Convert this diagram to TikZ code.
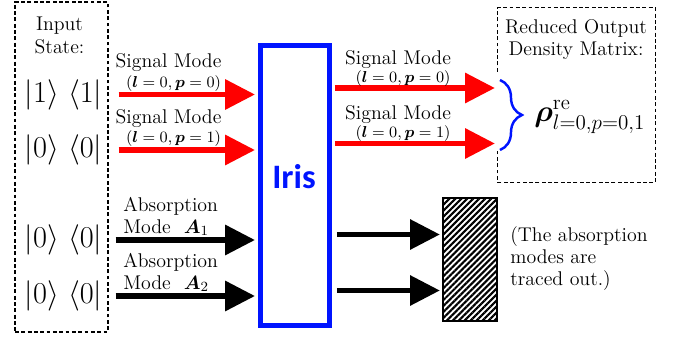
\documentclass[tikz,border=0pt]{standalone}
\usepackage{fontspec}
\usepackage{amsmath}
\usetikzlibrary{arrows.meta,patterns.meta,decorations.pathreplacing,calc}
\definecolor{irisblue}{RGB}{0,20,255}
\definecolor{sigred}{RGB}{255,0,0}
\newfontfamily\irisfont{Carlito}

\begin{document}
\begin{tikzpicture}[x=0.02cm, y=-0.02cm,
  fatarrow/.style={line width=3.4pt, -{Triangle[length=17pt,width=16.5pt]}},
  dashbox/.style={dash pattern=on 2.2pt off 1.4pt, line width=0.8pt},
  lbl/.style={font=\fontsize{11.3}{12.6}\selectfont, inner sep=0pt},
  modelbl/.style={font=\fontsize{9.1}{11}\selectfont, anchor=base, inner sep=0pt},
  ket/.style={font=\fontsize{17.5}{20}\selectfont, inner sep=0pt},
]
\useasboundingbox (0,0) rectangle (677,338);

% Input states
\node[draw, dashbox, minimum width=1.86cm, minimum height=6.6cm] (inbox) at (61.5,167) {};
\node[lbl, anchor=north, align=center] (intitle) at (59.5,17) {Input\\State:};
\node[ket] (k1) at (63.5,94.5) {$|1\rangle\ \langle 1|$};
\node[ket] (k2) at (63.5,150) {$|0\rangle\ \langle 0|$};
\node[ket] (k3) at (63.5,240) {$|0\rangle\ \langle 0|$};
\node[ket] (k4) at (63.5,296) {$|0\rangle\ \langle 0|$};

% Iris
\node[draw=irisblue, line width=2.8pt, minimum width=1.38cm, minimum height=5.6cm] (iris) at (295,185.5) {};
\node[font=\irisfont\bfseries\fontsize{19.5}{24}\selectfont, text=irisblue, inner sep=0pt] (iristxt) at (294,177) {Iris};

% Input arrows and labels
\draw[fatarrow, sigred] ($(inbox.east |- k1)+(10,0)$) -- ($(iris.west |- k1)+(-3,0)$);
\draw[fatarrow, sigred] ($(inbox.east |- k2)+(10,0)$) -- ($(iris.west |- k2)+(-3,0)$);
\draw[fatarrow] ($(inbox.east |- k3)+(7,0)$) -- ($(iris.west |- k3)+(-3,0)$);
\draw[fatarrow] ($(inbox.east |- k4)+(7,0)$) -- ($(iris.west |- k4)+(-3,0)$);

\node[lbl, anchor=base] (sig1) at (168.5,68) {Signal Mode};
\node[modelbl] (par1) at (173.5,87) {$(\boldsymbol{l}=0,\boldsymbol{p}=0)$};
\node[lbl, anchor=base] (sig2) at (168.5,123) {Signal Mode};
\node[modelbl] (par2) at (173.5,142) {$(\boldsymbol{l}=0,\boldsymbol{p}=1)$};
\node[lbl, anchor=base west] (abs1) at (123,211) {Absorption};
\node[lbl, anchor=base west] (mode1) at (123,233) {Mode \ $\boldsymbol{A}_1$};
\node[lbl, anchor=base west] (abs2) at (123,267) {Absorption};
\node[lbl, anchor=base west] (mode2) at (123,289) {Mode \ $\boldsymbol{A}_2$};

% Reduced output
\node[minimum width=3.14cm, minimum height=3.48cm] (outbox) at (576.5,95) {};
\draw[dashbox] ($(outbox.north west)+(0,64)$) |- (outbox.north east) |- (outbox.south west) -- ++(0,-32);
\node[lbl, anchor=north, align=center] (outtitle) at (576,19) {Reduced Output\\Density Matrix:};
\coordinate (sig1out) at (495,88);
\coordinate (sig2out) at (495,143.5);
\coordinate (btop) at (500,80);
\coordinate (bbot) at (500,150);
\draw[fatarrow, sigred] ($(iris.east |- sig1out)+(3,0)$) -- (sig1out);
\draw[fatarrow, sigred] ($(iris.east |- sig2out)+(3,0)$) -- (sig2out);
\node[lbl, anchor=base] (sig3) at (398,64) {Signal Mode};
\node[modelbl] (par3) at (403,82) {$(\boldsymbol{l}=0,\boldsymbol{p}=0)$};
\node[lbl, anchor=base] (sig4) at (398,119) {Signal Mode};
\node[modelbl] (par4) at (403,137) {$(\boldsymbol{l}=0,\boldsymbol{p}=1)$};
\draw[irisblue, line width=1.4pt, decorate, decoration={brace, amplitude=12.5pt}] (btop) -- (bbot);
\node[font=\fontsize{17}{20}\selectfont, anchor=base west, inner sep=0pt] (rho) at (534,121) {$\boldsymbol{\rho}^{\text{re}}_{l=0,p=0,1}$};

% Absorption modes traced out
\node[draw, line width=1.1pt, minimum width=1.08cm, minimum height=2.46cm,
  pattern={Lines[angle=45,distance=2.4pt,line width=1.2pt]}] (dump) at (470,259.5) {};
\draw[fatarrow] ($(iris.east |- 0,234.5)+(5,0)$) -- ($(dump.west |- 0,234.5)+(-2,0)$);
\draw[fatarrow] ($(iris.east |- 0,290.5)+(5,0)$) -- ($(dump.west |- 0,290.5)+(-2,0)$);
\node[lbl, anchor=north west, align=left] (note) at (510,226) {(The absorption\\modes are\\traced out.)};
\end{tikzpicture}
\end{document}
